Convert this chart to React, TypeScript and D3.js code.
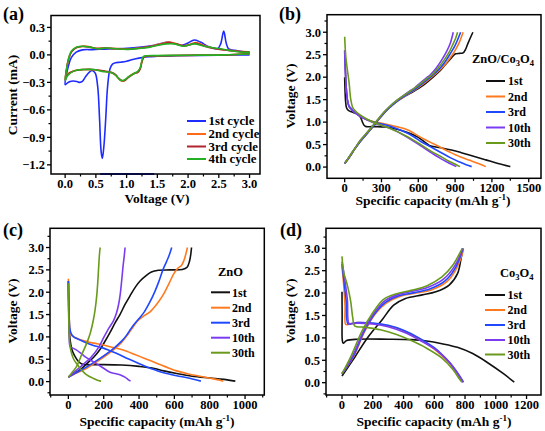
import React from "react";
import * as d3 from "d3";

type Pt = [number, number];

// ---------------- Panel (a): CV curves [voltage V, current mA] ----------------
const aCycle1: Pt[] = [
  [3.0, 0.0], [2.6, -0.003], [2.2, -0.005], [1.8, -0.01], [1.5, -0.015], [1.35, -0.02], [1.2, -0.035],
  [1.1, -0.05], [1.0, -0.07], [0.9, -0.08], [0.82, -0.085], [0.77, -0.1], [0.73, -0.15], [0.69, -0.35],
  [0.66, -0.7], [0.63, -1.0], [0.605, -1.13], [0.585, -1.05], [0.56, -0.7], [0.53, -0.35], [0.49, -0.2],
  [0.44, -0.17], [0.39, -0.19], [0.33, -0.24], [0.28, -0.29], [0.24, -0.3], [0.19, -0.29], [0.13, -0.285],
  [0.08, -0.29], [0.03, -0.31], [0.0, -0.325],
  [0.02, -0.22], [0.05, -0.13], [0.1, -0.03], [0.18, 0.03], [0.28, 0.055], [0.45, 0.058], [0.7, 0.066],
  [0.95, 0.068], [1.2, 0.082], [1.45, 0.105], [1.6, 0.13], [1.68, 0.14], [1.78, 0.125], [1.9, 0.105],
  [2.0, 0.13], [2.1, 0.163], [2.2, 0.14], [2.35, 0.085], [2.48, 0.068], [2.53, 0.12], [2.58, 0.26],
  [2.62, 0.13], [2.66, 0.065], [2.76, 0.05], [3.0, 0.02],
];
const aCycle2: Pt[] = [
  [3.0, 0.015], [2.6, 0.0], [2.2, -0.003], [1.8, -0.006], [1.5, -0.01], [1.33, -0.013], [1.28, -0.025],
  [1.25, -0.07], [1.22, -0.15], [1.18, -0.19], [1.12, -0.2], [1.03, -0.24], [0.97, -0.28], [0.92, -0.285],
  [0.87, -0.26], [0.82, -0.22], [0.75, -0.195], [0.65, -0.18], [0.5, -0.165], [0.4, -0.16], [0.3, -0.16],
  [0.2, -0.165], [0.12, -0.18], [0.06, -0.2], [0.02, -0.23], [0.0, -0.27],
  [0.02, -0.17], [0.05, -0.06], [0.1, 0.03], [0.18, 0.08], [0.28, 0.095], [0.38, 0.09], [0.5, 0.072],
  [0.65, 0.075], [0.8, 0.07], [1.0, 0.065], [1.2, 0.075], [1.4, 0.095], [1.55, 0.12], [1.68, 0.14],
  [1.8, 0.125], [1.93, 0.1], [2.05, 0.12], [2.13, 0.135], [2.25, 0.105], [2.4, 0.075], [2.6, 0.055],
  [2.8, 0.04], [3.0, 0.035],
];
const aCycle3: Pt[] = [
  [3.0, 0.012], [2.6, -0.002], [2.2, -0.004], [1.8, -0.007], [1.5, -0.011], [1.33, -0.014], [1.28, -0.026],
  [1.25, -0.075], [1.22, -0.155], [1.18, -0.19], [1.12, -0.205], [1.03, -0.245], [0.97, -0.28], [0.92, -0.28],
  [0.87, -0.255], [0.82, -0.215], [0.75, -0.19], [0.65, -0.178], [0.5, -0.162], [0.4, -0.158], [0.3, -0.16],
  [0.2, -0.167], [0.12, -0.182], [0.06, -0.205], [0.02, -0.24], [0.0, -0.275],
  [0.02, -0.17], [0.05, -0.06], [0.1, 0.03], [0.18, 0.078], [0.28, 0.092], [0.38, 0.088], [0.5, 0.07],
  [0.65, 0.074], [0.8, 0.068], [1.0, 0.063], [1.2, 0.073], [1.4, 0.093], [1.55, 0.115], [1.68, 0.135],
  [1.8, 0.12], [1.93, 0.098], [2.05, 0.115], [2.13, 0.128], [2.25, 0.1], [2.4, 0.072], [2.6, 0.053],
  [2.8, 0.04], [3.0, 0.033],
];
const aCycle4: Pt[] = [
  [3.0, 0.01], [2.6, 0.0], [2.2, -0.003], [1.75, -0.005], [1.5, -0.008], [1.33, -0.01], [1.27, -0.02],
  [1.25, -0.06], [1.22, -0.14], [1.18, -0.18], [1.13, -0.2], [1.03, -0.24], [0.96, -0.275], [0.91, -0.28],
  [0.86, -0.25], [0.82, -0.22], [0.73, -0.19], [0.6, -0.18], [0.46, -0.16], [0.29, -0.16], [0.2, -0.165],
  [0.13, -0.18], [0.05, -0.22], [0.02, -0.25], [0.0, -0.28],
  [0.02, -0.17], [0.05, -0.06], [0.1, 0.04], [0.19, 0.085], [0.29, 0.095], [0.4, 0.085], [0.54, 0.067],
  [0.67, 0.075], [0.84, 0.067], [1.0, 0.06], [1.2, 0.07], [1.38, 0.085], [1.55, 0.11], [1.65, 0.12],
  [1.77, 0.12], [1.93, 0.095], [2.1, 0.12], [2.26, 0.095], [2.4, 0.078], [2.53, 0.067], [2.7, 0.045],
  [2.87, 0.03], [3.0, 0.03],
];
const aBottomTrace: Pt[] = [[0.57, -1.3], [1.45, -1.3]];
const aSeries = [aCycle1, aCycle2, aCycle3, aCycle4];
const aLabels = ["1st cycle", "2nd cycle", "3rd cycle", "4th cycle"];
const aColors = ["#1f2cff", "#ff6a1a", "#b0262e", "#23b023"];
const aXTicks = [0, 0.5, 1, 1.5, 2, 2.5, 3];
const aYTicks = [0.3, 0, -0.3, -0.6, -0.9, -1.2];

// ---------------- Shared legend for (b)-(d) ----------------
const cycleLabels = ["1st", "2nd", "3rd", "10th", "30th"];
const cycleColors = ["#111111", "#ff7a1f", "#1f48ff", "#7a3cf0", "#6a9a1c"];

// ---------------- Panel (b): ZnO/Co3O4 [capacity, voltage] ----------------
const bDis1: Pt[] = [
  [0, 2.0], [3, 1.7], [8, 1.45], [15, 1.32], [30, 1.26], [55, 1.23], [85, 1.2], [110, 1.17], [130, 1.1],
  [145, 1.0], [158, 0.93], [175, 0.9], [220, 0.9], [270, 0.9], [330, 0.89], [400, 0.86], [470, 0.81],
  [540, 0.74], [600, 0.66], [650, 0.56], [690, 0.48], [730, 0.45], [800, 0.42], [870, 0.38], [950, 0.32],
  [1050, 0.24], [1150, 0.16], [1250, 0.08], [1350, 0.01],
];
const bChg1: Pt[] = [
  [0, 0.08], [20, 0.15], [50, 0.27], [84, 0.41], [130, 0.58], [193, 0.78], [240, 0.93], [274, 1.05],
  [320, 1.2], [356, 1.3], [410, 1.43], [464, 1.53], [520, 1.62], [573, 1.7], [630, 1.8], [690, 1.93],
  [736, 2.04], [780, 2.15], [818, 2.27], [860, 2.4], [886, 2.48], [905, 2.52], [935, 2.53], [965, 2.54],
  [985, 2.62], [1000, 2.72], [1020, 2.85], [1045, 3.0],
];
const bDis2: Pt[] = [
  [0, 2.6], [5, 2.2], [12, 1.8], [22, 1.5], [35, 1.35], [50, 1.3], [80, 1.22], [120, 1.14], [180, 1.06],
  [250, 1.0], [330, 0.96], [420, 0.9], [500, 0.84], [560, 0.76], [620, 0.66], [700, 0.55], [780, 0.44],
  [860, 0.33], [940, 0.23], [1020, 0.15], [1090, 0.08], [1150, 0.01],
];
const bChg2: Pt[] = [
  [0, 0.08], [20, 0.15], [50, 0.27], [84, 0.41], [130, 0.58], [193, 0.78], [240, 0.93], [274, 1.05],
  [320, 1.2], [356, 1.3], [410, 1.43], [464, 1.53], [520, 1.63], [573, 1.72], [630, 1.83], [682, 1.94],
  [730, 2.05], [780, 2.17], [830, 2.32], [870, 2.47], [905, 2.62], [935, 2.78], [965, 3.0],
];
const bDis3: Pt[] = [
  [0, 2.55], [5, 2.2], [12, 1.8], [22, 1.5], [35, 1.35], [50, 1.3], [80, 1.22], [120, 1.14], [180, 1.06],
  [250, 0.99], [330, 0.94], [420, 0.86], [500, 0.77], [560, 0.68], [620, 0.57], [700, 0.45], [780, 0.33],
  [860, 0.21], [930, 0.12], [990, 0.05], [1035, 0.01],
];
const bChg3: Pt[] = [
  [0, 0.08], [20, 0.15], [50, 0.27], [84, 0.41], [130, 0.58], [193, 0.78], [240, 0.93], [274, 1.05],
  [320, 1.2], [356, 1.3], [410, 1.43], [464, 1.54], [520, 1.64], [573, 1.73], [630, 1.85], [680, 1.96],
  [720, 2.05], [770, 2.18], [820, 2.35], [860, 2.52], [895, 2.68], [920, 2.83], [945, 3.0],
];
const bDis10: Pt[] = [
  [0, 2.6], [5, 2.2], [12, 1.8], [22, 1.5], [38, 1.35], [55, 1.3], [80, 1.22], [120, 1.14], [180, 1.05],
  [250, 0.97], [330, 0.9], [420, 0.8], [500, 0.68], [560, 0.58], [620, 0.47], [700, 0.33], [770, 0.21],
  [830, 0.12], [880, 0.05], [910, 0.01],
];
const bChg10: Pt[] = [
  [0, 0.08], [20, 0.16], [50, 0.28], [84, 0.42], [130, 0.6], [193, 0.8], [240, 0.95], [274, 1.07],
  [320, 1.22], [356, 1.32], [410, 1.45], [464, 1.56], [520, 1.67], [573, 1.77], [620, 1.88], [660, 1.97],
  [700, 2.06], [745, 2.2], [790, 2.38], [830, 2.57], [860, 2.75], [885, 3.0],
];
const bDis30: Pt[] = [
  [0, 2.9], [8, 2.5], [20, 2.2], [35, 1.9], [50, 1.5], [65, 1.33], [80, 1.27], [120, 1.17], [180, 1.07],
  [250, 0.98], [330, 0.9], [420, 0.8], [500, 0.69], [560, 0.6], [620, 0.5], [700, 0.36], [780, 0.24],
  [850, 0.13], [910, 0.05], [940, 0.01],
];
const bChg30: Pt[] = [
  [0, 0.08], [20, 0.16], [50, 0.28], [84, 0.42], [130, 0.6], [193, 0.8], [240, 0.95], [274, 1.07],
  [320, 1.22], [356, 1.32], [410, 1.45], [464, 1.56], [520, 1.66], [573, 1.76], [625, 1.87], [670, 1.97],
  [710, 2.05], [760, 2.2], [810, 2.38], [850, 2.55], [880, 2.72], [905, 2.87], [920, 3.0],
];
const bXTicks = [0, 300, 600, 900, 1200, 1500];

// ---------------- Panel (c): ZnO ----------------
const cDis1: Pt[] = [
  [0, 2.25], [2, 1.6], [5, 1.2], [10, 0.93], [20, 0.72], [35, 0.58], [57, 0.45], [80, 0.39], [104, 0.38],
  [200, 0.38], [300, 0.37], [400, 0.34], [480, 0.3], [540, 0.24], [613, 0.18], [700, 0.12], [800, 0.08],
  [880, 0.05], [945, 0.01],
];
const cChg1: Pt[] = [
  [0, 0.1], [30, 0.17], [66, 0.26], [104, 0.4], [142, 0.54], [179, 0.72], [210, 0.92], [236, 1.1],
  [265, 1.32], [292, 1.5], [320, 1.72], [349, 1.92], [380, 2.12], [406, 2.25], [440, 2.37], [470, 2.45],
  [510, 2.49], [575, 2.5], [645, 2.51], [672, 2.56], [686, 2.7], [693, 2.85], [697, 3.0],
];
const cDis2: Pt[] = [
  [0, 2.3], [3, 1.7], [8, 1.2], [15, 1.05], [30, 1.0], [60, 0.95], [100, 0.9], [142, 0.86], [200, 0.82],
  [236, 0.78], [290, 0.73], [330, 0.68], [380, 0.6], [425, 0.53], [470, 0.46], [519, 0.38], [570, 0.3],
  [613, 0.24], [680, 0.17], [745, 0.12], [810, 0.07], [858, 0.03], [877, 0.01],
];
const cChg2: Pt[] = [
  [0, 0.1], [40, 0.18], [104, 0.3], [179, 0.49], [255, 0.71], [300, 0.87], [330, 1.02], [350, 1.13],
  [368, 1.23], [390, 1.35], [420, 1.45], [462, 1.56], [500, 1.73], [538, 1.95], [570, 2.2], [598, 2.42],
  [620, 2.54], [640, 2.6], [655, 2.72], [666, 2.87], [674, 3.0],
];
const cDis3: Pt[] = [
  [0, 2.25], [3, 1.7], [8, 1.2], [15, 1.08], [30, 1.0], [60, 0.94], [100, 0.87], [142, 0.81], [190, 0.76],
  [236, 0.69], [290, 0.6], [330, 0.52], [380, 0.44], [425, 0.36], [470, 0.29], [519, 0.22], [570, 0.17],
  [613, 0.13], [680, 0.08], [720, 0.04], [750, 0.01],
];
const cChg3: Pt[] = [
  [0, 0.1], [40, 0.19], [104, 0.33], [179, 0.52], [255, 0.74], [300, 0.9], [330, 1.04], [350, 1.16],
  [368, 1.26], [400, 1.41], [430, 1.56], [460, 1.77], [490, 2.02], [515, 2.27], [535, 2.5], [555, 2.68],
  [570, 2.82], [585, 3.0],
];
const cDis10: Pt[] = [
  [0, 2.2], [2, 1.5], [5, 0.95], [10, 0.78], [20, 0.76], [40, 0.72], [66, 0.65], [100, 0.54], [142, 0.44],
  [180, 0.35], [210, 0.27], [236, 0.21], [265, 0.18], [295, 0.15], [320, 0.1], [340, 0.04], [352, 0.01],
];
const cChg10: Pt[] = [
  [0, 0.1], [30, 0.2], [80, 0.37], [130, 0.55], [170, 0.76], [202, 1.0], [230, 1.2], [255, 1.36],
  [271, 1.52], [284, 1.72], [294, 1.97], [302, 2.27], [310, 2.6], [316, 2.8], [321, 3.0],
];
const cDis30: Pt[] = [
  [0, 2.2], [2, 1.5], [4, 1.1], [8, 0.85], [15, 0.68], [30, 0.5], [47, 0.4], [66, 0.3], [104, 0.15],
  [142, 0.07], [165, 0.03], [185, 0.01],
];
const cChg30: Pt[] = [
  [0, 0.1], [20, 0.2], [47, 0.34], [75, 0.6], [104, 0.86], [125, 1.1], [140, 1.35], [151, 1.6],
  [160, 1.9], [166, 2.2], [172, 2.6], [176, 2.85], [180, 3.0],
];
const cXTicks = [0, 200, 400, 600, 800, 1000];

// ---------------- Panel (d): Co3O4 ----------------
const dDis1: Pt[] = [
  [0, 2.03], [1, 1.5], [2, 0.95], [8, 0.88], [30, 0.94], [100, 0.97], [300, 0.97], [450, 0.96],
  [550, 0.93], [650, 0.87], [750, 0.79], [850, 0.65], [950, 0.44], [1050, 0.2], [1120, 0.01],
];
const dChg1: Pt[] = [
  [0, 0.15], [40, 0.35], [85, 0.58], [172, 1.03], [260, 1.4], [336, 1.73], [413, 1.88], [522, 1.96],
  [610, 2.03], [697, 2.18], [752, 2.44], [774, 2.77], [785, 2.96],
];
const dDis2: Pt[] = [
  [0, 2.6], [12, 2.15], [20, 1.7], [24, 1.3], [40, 1.3], [100, 1.34], [200, 1.32], [300, 1.27],
  [400, 1.16], [500, 0.98], [600, 0.75], [650, 0.6], [700, 0.43], [740, 0.25], [770, 0.1], [785, 0.01],
];
const dChg2: Pt[] = [
  [0, 0.2], [78, 0.6], [148, 1.15], [220, 1.55], [290, 1.78], [380, 1.93], [480, 2.0], [580, 2.07],
  [680, 2.25], [740, 2.52], [780, 2.85], [790, 2.98],
];
const dDis3: Pt[] = [
  [0, 2.65], [15, 2.2], [28, 1.8], [38, 1.32], [60, 1.32], [100, 1.34], [200, 1.33], [300, 1.28],
  [400, 1.17], [500, 1.0], [600, 0.78], [650, 0.63], [700, 0.45], [740, 0.27], [772, 0.11], [790, 0.01],
];
const dChg3: Pt[] = [
  [0, 0.2], [75, 0.6], [145, 1.15], [215, 1.55], [285, 1.8], [370, 1.94], [470, 2.01], [570, 2.09],
  [670, 2.27], [735, 2.55], [778, 2.9], [788, 3.0],
];
const dDis10: Pt[] = [
  [0, 2.7], [18, 2.3], [35, 1.85], [46, 1.32], [70, 1.32], [100, 1.33], [200, 1.31], [300, 1.25],
  [400, 1.13], [500, 0.96], [600, 0.76], [650, 0.62], [700, 0.45], [742, 0.26], [772, 0.1], [788, 0.01],
];
const dChg10: Pt[] = [
  [0, 0.2], [70, 0.6], [140, 1.15], [210, 1.56], [280, 1.83], [360, 1.96], [460, 2.04], [560, 2.13],
  [660, 2.31], [730, 2.59], [775, 2.9], [785, 3.0],
];
const dDis30: Pt[] = [
  [0, 2.82], [12, 2.45], [33, 2.2], [55, 1.85], [70, 1.45], [82, 1.27], [150, 1.24], [250, 1.18],
  [350, 1.08], [450, 0.94], [550, 0.77], [650, 0.55], [720, 0.3], [760, 0.1], [780, 0.01],
];
const dChg30: Pt[] = [
  [0, 0.2], [60, 0.6], [130, 1.15], [200, 1.56], [270, 1.86], [350, 1.98], [450, 2.06], [550, 2.16],
  [650, 2.36], [720, 2.62], [770, 2.92], [782, 3.0],
];
const dXTicks = [0, 200, 400, 600, 800, 1000, 1200];
const vTicks = [0, 0.5, 1, 1.5, 2, 2.5, 3];

// ---------------- Rendering ----------------
const FONT = "'Liberation Serif', 'Times New Roman', serif";
const TICK_FS = 12.5;

type Box = { l: number; t: number; r: number; b: number };

function minorOf(ticks: number[], dom: [number, number]) {
  const step = ticks[1] - ticks[0];
  const out: number[] = [];
  const lo = Math.min(...ticks) - step;
  const hi = Math.max(...ticks) + step;
  const lo2 = Math.min(dom[0], dom[1]);
  const hi2 = Math.max(dom[0], dom[1]);
  for (let v = lo + step / 2; v <= hi; v += step) {
    if (v > lo2 && v < hi2) out.push(v);
  }
  return out;
}

type PanelProps = {
  id: string;
  box: Box;
  xDom: [number, number];
  yDom: [number, number];
  xTicks: number[];
  yTicks: number[];
  xFmt: (v: number) => string;
  yFmt: (v: number) => string;
  series: { data: Pt[]; color: string }[];
  children?: (x: d3.ScaleLinear<number, number>, y: d3.ScaleLinear<number, number>) => React.ReactNode;
};

function Panel({ id, box, xDom, yDom, xTicks, yTicks, xFmt, yFmt, series, children }: PanelProps) {
  const x = d3.scaleLinear().domain(xDom).range([box.l, box.r]);
  const y = d3.scaleLinear().domain(yDom).range([box.b, box.t]);
  const line = d3
    .line<Pt>()
    .x((d) => x(d[0]))
    .y((d) => y(d[1]))
    .curve(d3.curveCatmullRom.alpha(0.5));
  const xMin = minorOf(xTicks, xDom);
  const yMin = minorOf([...yTicks].sort((a, b) => a - b), yDom);
  return (
    <g>
      <defs>
        <clipPath id={`clip-${id}`}>
          <rect x={box.l} y={box.t} width={box.r - box.l} height={box.b - box.t} />
        </clipPath>
      </defs>
      <g clipPath={`url(#clip-${id})`}>
        {series.map((s, i) => (
          <path key={i} d={line(s.data) || ""} fill="none" stroke={s.color} strokeWidth={1.6} strokeLinejoin="round" />
        ))}
      </g>
      {children && children(x, y)}
      <rect x={box.l} y={box.t} width={box.r - box.l} height={box.b - box.t} fill="none" stroke="#000" strokeWidth={1.5} />
      {xTicks.map((v) => (
        <g key={`xt${v}`}>
          <line x1={x(v)} x2={x(v)} y1={box.b} y2={box.b + 4} stroke="#000" strokeWidth={1.3} />
          <text x={x(v)} y={box.b + 14} textAnchor="middle" fontSize={TICK_FS} fontWeight="bold" fontFamily={FONT}>
            {xFmt(v)}
          </text>
        </g>
      ))}
      {xMin.map((v) => (
        <line key={`xm${v}`} x1={x(v)} x2={x(v)} y1={box.b} y2={box.b + 2.5} stroke="#000" strokeWidth={1.2} />
      ))}
      {yTicks.map((v) => (
        <g key={`yt${v}`}>
          <line x1={box.l - 4} x2={box.l} y1={y(v)} y2={y(v)} stroke="#000" strokeWidth={1.3} />
          <text x={box.l - 6} y={y(v) + 4.3} textAnchor="end" fontSize={TICK_FS} fontWeight="bold" fontFamily={FONT}>
            {yFmt(v)}
          </text>
        </g>
      ))}
      {yMin.map((v) => (
        <line key={`ym${v}`} x1={box.l - 2.5} x2={box.l} y1={y(v)} y2={y(v)} stroke="#000" strokeWidth={1.2} />
      ))}
    </g>
  );
}

const f1 = (v: number) => (v < 0 ? "\u2212" + Math.abs(v).toFixed(1) : v.toFixed(1));
const f0 = (v: number) => String(v);

function Legend({ x0, x1, tx, rows, labels, colors, size }: { x0: number; x1: number; tx: number; rows: number[]; labels: string[]; colors: string[]; size: number }) {
  return (
    <g>
      {labels.map((lab, i) => (
        <g key={lab}>
          <line x1={x0} x2={x1} y1={rows[i]} y2={rows[i]} stroke={colors[i]} strokeWidth={2} />
          <text x={tx} y={rows[i] + 4.2} fontSize={size} fontWeight="bold" fontFamily={FONT}>
            {lab}
          </text>
        </g>
      ))}
    </g>
  );
}

function CapTitle({ cx, y }: { cx: number; y: number }) {
  return (
    <text x={cx} y={y} textAnchor="middle" fontSize={13.5} fontWeight="bold" fontFamily={FONT}>
      Specific capacity (mAh g<tspan dy={-5} fontSize={9}>-1</tspan>
      <tspan dy={5}>)</tspan>
    </text>
  );
}

function VTitle({ x, cy, label }: { x: number; cy: number; label: string }) {
  return (
    <text
      transform={`translate(${x},${cy}) rotate(-90)`}
      textAnchor="middle"
      fontSize={13.5}
      fontWeight="bold"
      fontFamily={FONT}
    >
      {label}
    </text>
  );
}

function PanelTag({ x, y, t }: { x: number; y: number; t: string }) {
  return (
    <text x={x} y={y} fontSize={18} fontWeight="bold" fontFamily={FONT}>
      {t}
    </text>
  );
}

const aRows = [121, 134, 146.5, 159];
const bRows = [81, 96.5, 112, 127.5, 143];
const cRows = [292.3, 307.7, 322.7, 337.7, 352.7];
const dRows = [295, 310, 325, 340, 354.5];

export default function App() {
  const aBox: Box = { l: 51, t: 15.5, r: 260, b: 174 };
  const bBox: Box = { l: 327, t: 14.7, r: 541, b: 178.3 };
  const cBox: Box = { l: 50, t: 228.3, r: 264.3, b: 395 };
  const dBox: Box = { l: 326, t: 228.3, r: 541, b: 395 };

  const bSeries = [
    [bDis1, bChg1], [bDis2, bChg2], [bDis3, bChg3], [bDis10, bChg10], [bDis30, bChg30],
  ].flatMap((pair, i) => pair.map((data) => ({ data, color: cycleColors[i] })));
  const cSeries = [
    [cDis1, cChg1], [cDis2, cChg2], [cDis3, cChg3], [cDis10, cChg10], [cDis30, cChg30],
  ].flatMap((pair, i) => pair.map((data) => ({ data, color: cycleColors[i] })));
  const dSeries = [
    [dDis1, dChg1], [dDis2, dChg2], [dDis3, dChg3], [dDis10, dChg10], [dDis30, dChg30],
  ].flatMap((pair, i) => pair.map((data) => ({ data, color: cycleColors[i] })));

  return (
    <svg
      width={545}
      height={431}
      viewBox="0 0 545 431"
      style={{ position: "absolute", left: 0, top: 0, background: "#fff" }}
    >
      <rect x={0} y={0} width={545} height={431} fill="#fff" />

      {/* (a) */}
      <Panel
        id="a"
        box={aBox}
        xDom={[-0.23, 3.17]}
        yDom={[-1.3, 0.43]}
        xTicks={aXTicks}
        yTicks={aYTicks}
        xFmt={f1}
        yFmt={f1}
        series={aSeries.map((data, i) => ({ data, color: aColors[i] }))}
      >
        {(x, y) => (
          <g>
            <line x1={x(aBottomTrace[0][0])} x2={x(aBottomTrace[1][0])} y1={y(aBottomTrace[0][1])} y2={y(aBottomTrace[1][1])} stroke={aColors[0]} strokeWidth={2} />
            <Legend x0={187} x1={206} tx={208.5} rows={aRows} labels={aLabels} colors={aColors} size={12.8} />
          </g>
        )}
      </Panel>
      <PanelTag x={3} y={20} t="(a)" />
      <VTitle x={16.5} cy={95} label="Current (mA)" />
      <text x={157} y={203} textAnchor="middle" fontSize={13.5} fontWeight="bold" fontFamily={FONT}>
        Voltage (V)
      </text>

      {/* (b) */}
      <Panel
        id="b"
        box={bBox}
        xDom={[-144, 1600]}
        yDom={[-0.25, 3.39]}
        xTicks={bXTicks}
        yTicks={vTicks}
        xFmt={f0}
        yFmt={f1}
        series={bSeries}
      >
        {() => (
          <g>
            <text x={472} y={63} fontSize={12.5} fontWeight="bold" fontFamily={FONT}>
              ZnO/Co<tspan dy={3} fontSize={8.5}>3</tspan>
              <tspan dy={-3}>O</tspan>
              <tspan dy={3} fontSize={8.5}>4</tspan>
            </text>
            <Legend x0={486} x1={505} tx={508} rows={bRows} labels={cycleLabels} colors={cycleColors} size={12} />
          </g>
        )}
      </Panel>
      <PanelTag x={279} y={20} t="(b)" />
      <VTitle x={294.5} cy={96} label="Voltage (V)" />
      <CapTitle cx={433} y={205} />

      {/* (c) */}
      <Panel
        id="c"
        box={cBox}
        xDom={[-104, 1109]}
        yDom={[-0.3, 3.43]}
        xTicks={cXTicks}
        yTicks={vTicks}
        xFmt={f0}
        yFmt={f1}
        series={cSeries}
      >
        {() => (
          <g>
            <text x={218} y={276} fontSize={12.5} fontWeight="bold" fontFamily={FONT}>
              ZnO
            </text>
            <Legend x0={211} x1={230} tx={232} rows={cRows} labels={cycleLabels} colors={cycleColors} size={12} />
          </g>
        )}
      </Panel>
      <PanelTag x={3} y={236} t="(c)" />
      <VTitle x={16.5} cy={311} label="Voltage (V)" />
      <CapTitle cx={157} y={426} />

      {/* (d) */}
      <Panel
        id="d"
        box={dBox}
        xDom={[-104, 1294]}
        yDom={[-0.275, 3.446]}
        xTicks={dXTicks}
        yTicks={vTicks}
        xFmt={f0}
        yFmt={f1}
        series={dSeries}
      >
        {() => (
          <g>
            <text x={500} y={277} fontSize={12.5} fontWeight="bold" fontFamily={FONT}>
              Co<tspan dy={3} fontSize={8.5}>3</tspan>
              <tspan dy={-3}>O</tspan>
              <tspan dy={3} fontSize={8.5}>4</tspan>
            </text>
            <Legend x0={485} x1={505} tx={507.5} rows={dRows} labels={cycleLabels} colors={cycleColors} size={12} />
          </g>
        )}
      </Panel>
      <PanelTag x={280} y={236} t="(d)" />
      <VTitle x={294.5} cy={311} label="Voltage (V)" />
      <CapTitle cx={434} y={426} />
    </svg>
  );
}
